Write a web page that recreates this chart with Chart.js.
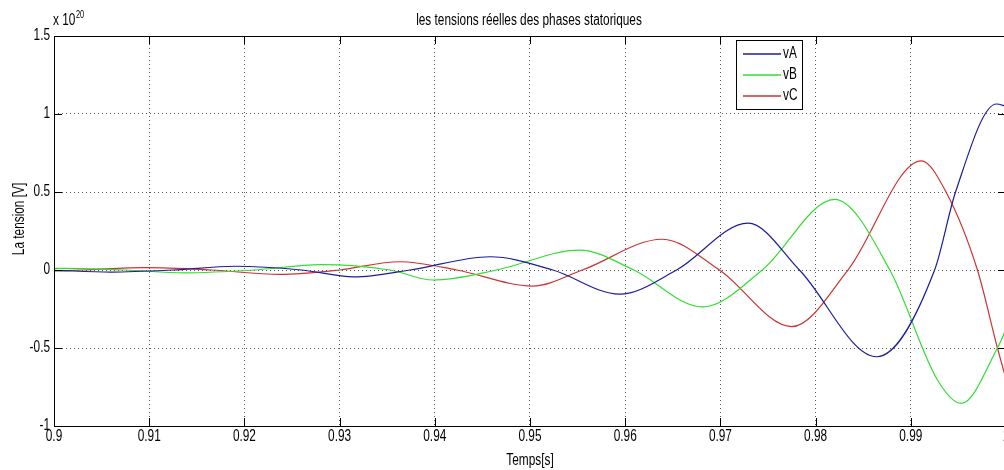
<!DOCTYPE html>
<html>
<head>
<meta charset="utf-8">
<script src="https://cdn.jsdelivr.net/npm/chart.js@4.4.1/dist/chart.umd.min.js"></script>
<style>
  html, body { margin: 0; padding: 0; background: #fff; overflow: hidden; }
  #wrap { width: 1012px; height: 470px; }
</style>
</head>
<body>
<div id="wrap"><canvas id="plot" width="1012" height="470"></canvas></div>
<script>
// values in units of 1e20 V
const vA_t = [0.9, 0.906, 0.9125, 0.919, 0.926, 0.9315, 0.9374, 0.9458, 0.9524, 0.9594, 0.9654, 0.9729, 0.9783, 0.9864, 0.9925, 0.9947, 0.999, 1.0];
const vA_v = [-0.002, -0.013, 0, 0.024, 0, -0.044, 0, 0.085, 0, -0.155, 0, 0.30, 0, -0.556, 0, 0.5, 1.064, 1.05];

const vB_t = [0.9, 0.9015, 0.9075, 0.9137, 0.921, 0.928, 0.9353, 0.9398, 0.9465, 0.9552, 0.9609, 0.9681, 0.9744, 0.982, 0.9878, 0.9928, 0.9953, 0.9991, 1.0];
const vB_v = [0.01, 0.011, 0, -0.018, 0, 0.035, 0, -0.064, 0, 0.128, 0, -0.237, 0, 0.453, 0, -0.705, -0.855, -0.5, -0.38];

const vC_t = [0.9, 0.903, 0.9095, 0.9165, 0.9237, 0.930, 0.9363, 0.9423, 0.9503, 0.9555, 0.9639, 0.9699, 0.9775, 0.9834, 0.9911, 0.9937, 0.997, 0.9991, 1.0];
const vC_v = [-0.005, 0, 0.015, 0, -0.028, 0, 0.053, 0, -0.103, 0, 0.197, 0, -0.363, 0, 0.70, 0.5, 0, -0.5, -0.7];

const seriesNames = ['vA', 'vB', 'vC'];
const seriesColors = ['#1c1c9c', '#33dd33', '#cc3333'];

const xTicks = [0.9, 0.91, 0.92, 0.93, 0.94, 0.95, 0.96, 0.97, 0.98, 0.99, 1.0];
const xTickLabels = ['0.9', '0.91', '0.92', '0.93', '0.94', '0.95', '0.96', '0.97', '0.98', '0.99', '1'];
const yTicks = [-1, -0.5, 0, 0.5, 1, 1.5];
const yTickLabels = ['-1', '-0.5', '0', '0.5', '1', '1.5'];

const titleText = 'les tensions réelles des phases statoriques';
const xLabel = 'Temps[s]';
const yLabel = 'La tension [V]';

const FONT = "'Liberation Sans', Arial, sans-serif";
const SQUEEZE = 0.74; // the reference text is narrow, like a condensed Helvetica
Chart.defaults.font.family = FONT;
Chart.defaults.color = '#000';

function toPoints(ts, vs) {
    return ts.map((t, i) => ({ x: t, y: vs[i] }));
}

function narrowText(ctx, str, x, y, size, align) {
    ctx.save();
    ctx.translate(x, y);
    ctx.scale(SQUEEZE, 1);
    ctx.font = size + 'px ' + FONT;
    ctx.textAlign = align;
    ctx.textBaseline = 'middle';
    ctx.fillText(str, 0, 0);
    ctx.restore();
}

const allSeries = [[vA_t, vA_v], [vB_t, vB_v], [vC_t, vC_v]];

const matlabFrame = {
    id: 'matlabFrame',
    afterDatasetsDraw(chart) {
        const { ctx, chartArea: a, scales: { x, y } } = chart;
        ctx.save();
        ctx.strokeStyle = '#000';
        ctx.lineWidth = 1;
        ctx.setLineDash([]);
        ctx.strokeRect(a.left + 0.5, a.top + 0.5, a.right - a.left, a.bottom - a.top);

        // inward tick marks on all four sides
        ctx.beginPath();
        x.ticks.forEach(t => {
            const px = Math.round(x.getPixelForValue(t.value)) + 0.5;
            ctx.moveTo(px, a.bottom); ctx.lineTo(px, a.bottom - 8);
            ctx.moveTo(px, a.top); ctx.lineTo(px, a.top + 8);
        });
        y.ticks.forEach(t => {
            const py = Math.round(y.getPixelForValue(t.value)) + 0.5;
            ctx.moveTo(a.left, py); ctx.lineTo(a.left + 8, py);
            ctx.moveTo(a.right, py); ctx.lineTo(a.right - 8, py);
        });
        ctx.stroke();

        // tick labels
        ctx.fillStyle = '#000';
        x.ticks.forEach((t, i) => {
            narrowText(ctx, xTickLabels[i], x.getPixelForValue(t.value), a.bottom + 11, 16, 'center');
        });
        y.ticks.forEach((t, i) => {
            narrowText(ctx, yTickLabels[i], a.left - 4, y.getPixelForValue(t.value), 16, 'right');
        });

        // legend box
        const lx = 736, ly = 40, lw = 66, lh = 69;
        ctx.fillStyle = '#fff';
        ctx.fillRect(lx, ly, lw, lh);
        ctx.strokeStyle = '#000';
        ctx.strokeRect(lx + 0.5, ly + 0.5, lw, lh);
        chart.data.datasets.forEach((ds, i) => {
            const ey = 54 + i * 21;
            ctx.strokeStyle = ds.borderColor;
            ctx.lineWidth = 1.5;
            ctx.beginPath();
            ctx.moveTo(743, ey);
            ctx.lineTo(781, ey);
            ctx.stroke();
            ctx.fillStyle = '#000';
            narrowText(ctx, ds.label, 783, ey, 16, 'left');
        });
        ctx.restore();
    },
    afterDraw(chart) {
        const { ctx } = chart;
        ctx.save();
        ctx.fillStyle = '#000';
        narrowText(ctx, titleText, 529, 21, 16, 'center');
        narrowText(ctx, xLabel, 530, 461, 16, 'center');
        ctx.save();
        ctx.translate(20, 219);
        ctx.rotate(-Math.PI / 2);
        narrowText(ctx, yLabel, 0, 0, 16, 'center');
        ctx.restore();
        // exponent
        narrowText(ctx, 'x 10', 53, 21, 16, 'left');
        narrowText(ctx, '20', 76, 15, 10, 'left');
        ctx.restore();
    }
};

new Chart(document.getElementById('plot'), {
    type: 'line',
    data: {
        datasets: allSeries.map((s, i) => ({
            label: seriesNames[i],
            data: toPoints(s[0], s[1]),
            borderColor: seriesColors[i],
            borderWidth: 1.2,
            pointRadius: 0,
            fill: false,
            cubicInterpolationMode: 'monotone'
        }))
    },
    options: {
        responsive: false,
        animation: false,
        devicePixelRatio: 1,
        layout: { padding: { top: 36, right: 6, left: 0, bottom: 0 } },
        plugins: {
            legend: { display: false },
            tooltip: { enabled: false }
        },
        scales: {
            x: {
                type: 'linear',
                min: 0.9,
                max: 1.0,
                afterBuildTicks: s => { s.ticks = xTicks.map(v => ({ value: v })); },
                afterFit: s => { s.height = 44; },
                ticks: { display: false, autoSkip: false },
                grid: { color: '#555', lineWidth: 1, drawTicks: false },
                border: { display: false, dash: [1, 3] }
            },
            y: {
                min: -1,
                max: 1.5,
                afterBuildTicks: s => { s.ticks = yTicks.map(v => ({ value: v })); },
                afterFit: s => { s.width = 54; },
                ticks: { display: false, autoSkip: false },
                grid: { color: '#555', lineWidth: 1, drawTicks: false },
                border: { display: false, dash: [1, 3] }
            }
        }
    },
    plugins: [matlabFrame]
});
</script>
</body>
</html>
